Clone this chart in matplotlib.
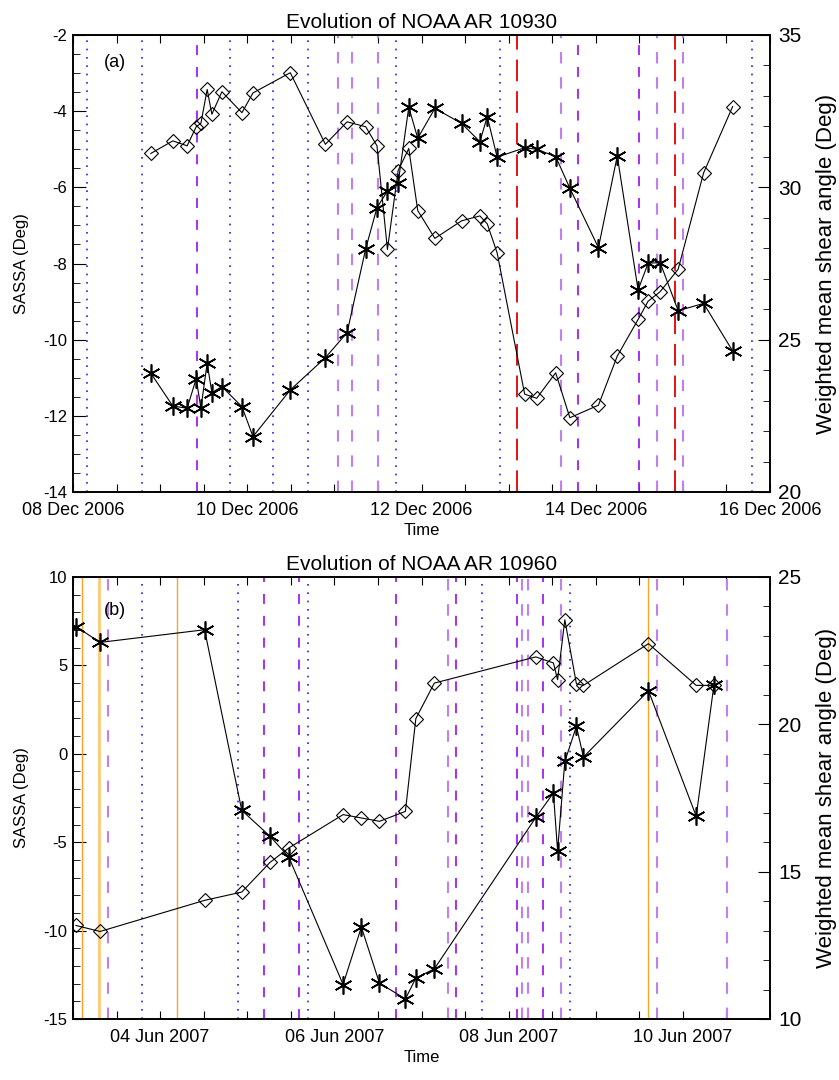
import datetime as dt
import matplotlib
matplotlib.use('Agg')
import matplotlib.pyplot as plt
import matplotlib.dates as mdates
from matplotlib.ticker import MultipleLocator, FuncFormatter

plt.rcParams['font.family'] = ['Liberation Sans', 'DejaVu Sans']
plt.rcParams['axes.unicode_minus'] = False

# ---- NOAA AR 10930, time in days after 08 Dec 2006 00:00 UT
base_a = dt.datetime(2006, 12, 8)
t_a = [0.893, 1.146, 1.310, 1.414, 1.468, 1.540, 1.594, 1.709, 1.939, 2.066,
       2.494, 2.897, 3.146, 3.360, 3.489, 3.609, 3.732, 3.854, 3.957, 4.153,
       4.460, 4.670, 4.755, 4.868, 5.184, 5.322, 5.540, 5.703, 6.031, 6.247,
       6.486, 6.601, 6.739, 6.946, 7.238, 7.571]
sassa_a = [-5.11, -4.78, -4.91, -4.41, -4.32, -3.43, -4.08, -3.49, -4.04, -3.52,
           -2.99, -4.87, -4.28, -4.41, -4.91, -7.63, -5.56, -4.98, -6.61, -7.34,
           -6.88, -6.75, -6.96, -7.72, -11.43, -11.54, -10.87, -12.05, -11.72, -10.43,
           -9.47, -8.99, -8.74, -8.15, -5.62, -3.88]
shear_a = [23.90, 22.82, 22.75, 23.72, 22.75, 24.23, 23.26, 23.46, 22.80, 21.82,
           23.35, 24.41, 25.23, 27.99, 29.33, 29.88, 30.15, 32.63, 31.61, 32.59,
           32.10, 31.50, 32.32, 30.99, 31.30, 31.25, 31.01, 29.97, 28.02, 31.03,
           26.63, 27.51, 27.53, 25.95, 26.19, 24.63]
blue_a = [0.164, 0.796, 1.803, 2.300, 2.698, 3.705, 4.902, 7.799]
violet_a = [1.420, 5.801, 6.502]
lilac_a = [3.039, 3.200, 3.498, 5.599, 6.701, 7.000]
red_a = [5.101, 6.904]

# ---- NOAA AR 10960, time in days after 03 Jun 2007 00:00 UT
base_b = dt.datetime(2007, 6, 3)
t_b = [0.034, 0.310, 1.510, 1.937, 2.262, 2.476, 3.100, 3.310, 3.517, 3.815,
       3.935, 4.147, 5.312, 5.514, 5.562, 5.645, 5.778, 5.859, 6.605, 7.153, 7.356]
sassa_b = [-9.71, -10.05, -8.29, -7.82, -6.14, -5.33, -3.44, -3.63, -3.82, -3.26,
           1.99, 4.00, 5.48, 5.14, 4.19, 7.58, 3.96, 3.87, 6.23, 3.87, 3.87]
shear_b = [23.32, 22.78, 23.21, 17.08, 16.20, 15.50, 11.17, 13.12, 11.22, 10.68,
           11.39, 11.70, 16.84, 17.67, 15.71, 18.74, 19.93, 18.89, 21.14, 16.88, 21.32]
blue_b = [0.796, 1.898, 2.698, 4.699, 5.700]
violet_b = [2.196, 2.598, 3.705, 4.397, 5.101, 5.400]
lilac_b = [0.398, 4.302, 5.151, 5.220, 5.599, 6.701, 7.505]
orange_b = [0.100, 1.197, 6.605]
peach_b = [0.302]

W, H = 839, 1080


def days(base, offs):
    return [mdates.date2num(base) + d for d in offs]


def date_label(x, pos):
    d = mdates.num2date(x)
    if d.hour == 0 and d.day % 2 == 0:
        return d.strftime('%d %b %Y')
    return ''


def panel(rect, base, t, sassa, shear, title, tag, ylim_l, ylim_r, step_l, minor_l, tagy):
    ax = fig.add_axes(rect)
    x0 = mdates.date2num(base)
    ax.set_xlim(x0, x0 + 8)
    ax.set_ylim(*ylim_l)
    ax2 = ax.twinx()
    ax2.set_ylim(*ylim_r)

    ax.plot(days(base, t), sassa, '-', color='black', lw=0.8, marker='D', ms=7.5,
            mfc='none', mec='black', mew=0.8, zorder=5)
    ax2.plot(days(base, t), shear, '-', color='black', lw=0.8, marker=(6, 2, 0), ms=13,
             mec='black', mew=1.2, zorder=5)

    ax.xaxis.set_major_locator(mdates.HourLocator(byhour=[0, 12]))
    ax.xaxis.set_major_formatter(FuncFormatter(date_label))
    ax.yaxis.set_major_locator(MultipleLocator(step_l))
    ax.yaxis.set_minor_locator(MultipleLocator(minor_l))
    ax2.yaxis.set_major_locator(MultipleLocator(5))
    ax2.yaxis.set_minor_locator(MultipleLocator(1))

    ax.tick_params(axis='x', which='major', direction='in', top=True, length=6,
                   labelsize=13, pad=7)
    ax.tick_params(axis='y', which='major', direction='in', length=9, labelsize=12, pad=4)
    ax.tick_params(axis='y', which='minor', direction='in', length=5)
    ax2.tick_params(axis='y', which='major', direction='in', length=9, labelsize=15, pad=6)
    ax2.tick_params(axis='y', which='minor', direction='in', length=5)

    for a in (ax, ax2):
        for s in a.spines.values():
            s.set_linewidth(1.2)

    ax.set_title(title, fontsize=15, pad=5)
    ax.set_xlabel('Time', fontsize=12, labelpad=3)
    ax.set_ylabel('SASSA (Deg)', fontsize=12)
    ax.yaxis.set_label_coords(-0.063, 0.5)
    ax2.set_ylabel('Weighted mean shear angle (Deg)', fontsize=16)
    ax2.yaxis.set_label_coords(1.066, 0.5)
    ax.text(0.045, tagy, tag, transform=ax.transAxes, fontsize=13, va='center')
    return ax


def vlines(ax, base, offs, color, ls, lw):
    for x in days(base, offs):
        ax.axvline(x, color=color, ls=ls, lw=lw, zorder=2)


fig = plt.figure(figsize=(W / 100, H / 100), dpi=100)

dot = (0, (1, 4))
dash = (0, (5.5, 6.6))
longdash = (0, (12, 5.5))

ax_a = panel([73 / W, 1 - 492 / H, 697 / W, 457 / H], base_a, t_a, sassa_a, shear_a,
             'Evolution of NOAA AR 10930', '(a)', (-14, -2), (20, 35), 2, 0.5, 0.94)
vlines(ax_a, base_a, blue_a, '#2020ff', dot, 1.2)
vlines(ax_a, base_a, violet_a, '#a020f0', dash, 1.3)
vlines(ax_a, base_a, lilac_a, '#c080f0', dash, 1.5)
vlines(ax_a, base_a, red_a, '#e00000', longdash, 1.3)

ax_b = panel([73 / W, 1 - 1019 / H, 697 / W, 442 / H], base_b, t_b, sassa_b, shear_b,
             'Evolution of NOAA AR 10960', '(b)', (-15, 10), (10, 25), 5, 1, 0.925)
vlines(ax_b, base_b, blue_b, '#2020ff', dot, 1.2)
vlines(ax_b, base_b, violet_b, '#a020f0', dash, 1.3)
vlines(ax_b, base_b, lilac_b, '#c080f0', dash, 1.5)
vlines(ax_b, base_b, orange_b, '#f5a623', '-', 1.0)
vlines(ax_b, base_b, peach_b, '#ffc870', '-', 2.0)

fig.savefig('out.png', dpi=100)
